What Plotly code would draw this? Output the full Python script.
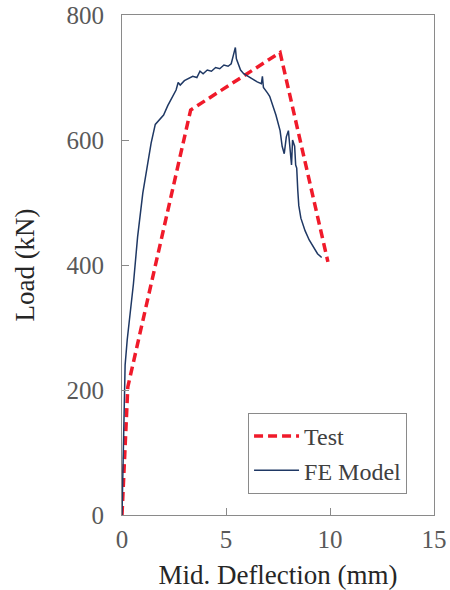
import plotly.graph_objects as go

# Test (red dashed)
test_x = [0, 0.28, 3.3, 7.6, 9.9]
test_y = [0, 205, 648, 740, 405]

# FE Model (navy solid)
fe_x = [0, 0.05, 0.1, 0.15, 0.25, 0.4, 0.55, 0.75, 1.0, 1.2, 1.4, 1.6, 1.8, 2.0,
        2.2, 2.4, 2.6, 2.7, 2.8, 3.0, 3.2, 3.4, 3.6, 3.75, 3.9, 4.1, 4.3, 4.5,
        4.7, 4.9, 5.1, 5.25, 5.35, 5.45, 5.5, 5.6, 5.7, 5.85, 6.0, 6.15, 6.3,
        6.5, 6.7, 6.75, 6.8, 6.9, 7.0, 7.1, 7.25, 7.4, 7.6, 7.7, 7.8, 7.9, 8.0,
        8.1, 8.15, 8.2, 8.3, 8.35, 8.4, 8.45, 8.5, 8.6, 8.8, 9.0, 9.2, 9.4, 9.6]
fe_y = [0, 100, 190, 240, 280, 325, 370, 445, 515, 555, 595, 625, 632, 640,
        655, 668, 680, 692, 688, 695, 698, 702, 700, 710, 706, 712, 710, 716,
        714, 720, 718, 722, 735, 748, 730, 722, 712, 706, 703, 700, 696,
        693, 690, 702, 684, 680, 675, 670, 655, 640, 615, 590, 578, 605, 615,
        580, 560, 600, 590, 560, 555, 520, 495, 475, 455, 440, 428, 418, 412]

x_ticks = [0, 5, 10, 15]
y_ticks = [0, 200, 400, 600, 800]

FONT = "Liberation Serif"

fig = go.Figure()
fig.add_trace(go.Scatter(x=test_x, y=test_y, mode="lines", name="Test",
                         line=dict(color="#F01A2A", width=3.5, dash="9px,5px")))
fig.add_trace(go.Scatter(x=fe_x, y=fe_y, mode="lines", name="FE Model",
                         line=dict(color="#1F3864", width=1.5)))

axis_common = dict(showgrid=False, zeroline=False, showline=True, mirror=True,
                   linecolor="#8A8A8A", linewidth=1, ticks="inside", ticklen=7,
                   tickcolor="#8A8A8A", automargin=False,
                   tickfont=dict(family=FONT, size=25, color="#595959"))

fig.update_layout(
    width=450, height=590,
    margin=dict(l=122, r=16, t=15, b=75),
    paper_bgcolor="white", plot_bgcolor="white",
    font=dict(family=FONT),
    xaxis=dict(range=[0, 15], tickvals=x_ticks, ticklabelstandoff=2,
               title=dict(text="Mid. Deflection (mm)", standoff=14,
                          font=dict(family=FONT, size=27, color="#262626")),
               **axis_common),
    yaxis=dict(range=[0, 800], tickvals=y_ticks, ticklabelstandoff=12,
               title=dict(text="Load (kN)", standoff=24,
                          font=dict(family=FONT, size=27, color="#262626")),
               **axis_common),
    legend=dict(x=0.404, y=0.204, xanchor="left", yanchor="top",
                bgcolor="white", bordercolor="#8A8A8A", borderwidth=1,
                font=dict(family=FONT, size=24, color="#404040"),
                itemwidth=45, tracegroupgap=0),
    showlegend=True,
)

fig.write_html("out.html")
